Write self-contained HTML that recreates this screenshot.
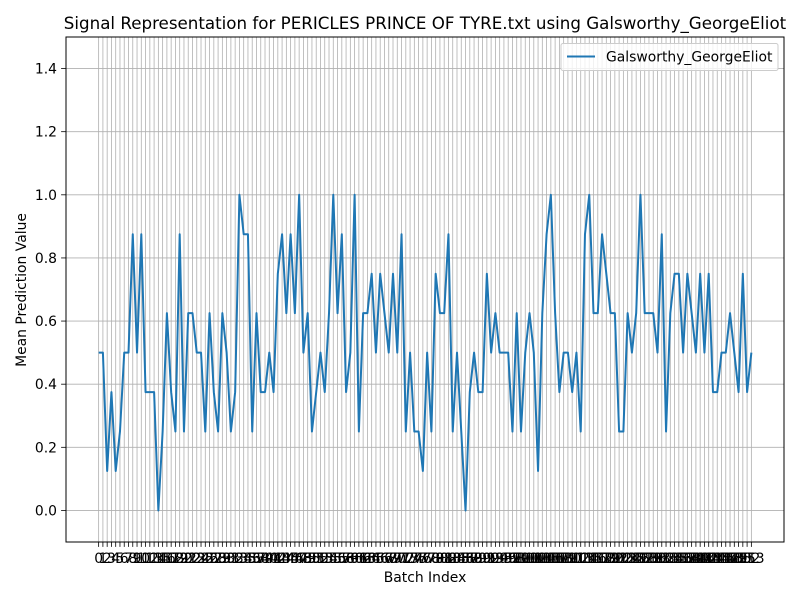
<!DOCTYPE html>
<html><head><meta charset="utf-8"><style>
html,body{margin:0;padding:0;background:#fff;}
svg{display:block;font-family:"DejaVu Sans","Liberation Sans",sans-serif;}
</style></head><body>
<svg id="chart" width="800" height="600" viewBox="0 0 800 600" xmlns="http://www.w3.org/2000/svg">
<rect x="0" y="0" width="800" height="600" fill="#fff"/>
<text x="425" y="29" text-anchor="middle" font-size="16.7" fill="#000">Signal Representation for PERICLES PRINCE OF TYRE.txt using Galsworthy_GeorgeEliot</text>
<g id="grid"></g>
<g id="series"></g>
<rect x="66" y="37" width="718" height="505" fill="none" stroke="#000" stroke-width="1"/>
<g id="xticks"></g>
<g id="yticks"></g>
<text x="425" y="582" text-anchor="middle" font-size="13.9">Batch Index</text>
<text transform="translate(26,290) rotate(-90)" text-anchor="middle" font-size="13.9">Mean Prediction Value</text>
<g>
<rect x="561" y="43.5" width="217" height="27" rx="2" fill="#fff" fill-opacity="0.8" stroke="#ccc"/>
<line x1="567" y1="56.5" x2="595" y2="56.5" stroke="#1f77b4" stroke-width="2"/>
<text x="606" y="61.5" font-size="13.9">Galsworthy_GeorgeEliot</text>
</g>
</svg>
<script>
const values = [0.5,0.5,0.125,0.375,0.125,0.25,0.5,0.5,0.875,0.5,
0.875,0.375,0.375,0.375,0,0.25,0.625,0.375,0.25,0.875,
0.25,0.625,0.625,0.5,0.5,0.25,0.625,0.375,0.25,0.625,
0.5,0.25,0.375,1.0,0.875,0.875,0.25,0.625,0.375,0.375,
0.5,0.375,0.75,0.875,0.625,0.875,0.625,1.0,0.5,0.625,
0.25,0.375,0.5,0.375,0.625,1.0,0.625,0.875,0.375,0.5,
1.0,0.25,0.625,0.625,0.75,0.5,0.75,0.625,0.5,0.75,
0.5,0.875,0.25,0.5,0.25,0.25,0.125,0.5,0.25,0.75,
0.625,0.625,0.875,0.25,0.5,0.25,0,0.375,0.5,0.375,
0.375,0.75,0.5,0.625,0.5,0.5,0.5,0.25,0.625,0.25,
0.5,0.625,0.5,0.125,0.625,0.875,1.0,0.625,0.375,0.5,
0.5,0.375,0.5,0.25,0.875,1.0,0.625,0.625,0.875,0.75,
0.625,0.625,0.25,0.25,0.625,0.5,0.625,1.0,0.625,0.625,
0.625,0.5,0.875,0.25,0.625,0.75,0.75,0.5,0.75,0.625,
0.5,0.75,0.5,0.75,0.375,0.375,0.5,0.5,0.625,0.5,
0.375,0.75,0.375,0.5];
const yTicks = [0.0,0.2,0.4,0.6,0.8,1.0,1.2,1.4];
const yDomain = [-0.1,1.5];
const NS="http://www.w3.org/2000/svg";
const L=66,R=784,T=37,B=542;
const n=values.length;
const xPad=(n-1)*0.05;
function xs(i){return L+(i+xPad)/((n-1)+2*xPad)*(R-L);}
function ys(v){return B-(v-yDomain[0])/(yDomain[1]-yDomain[0])*(B-T);}
function mk(tag,attrs,parent){const e=document.createElementNS(NS,tag);for(const k in attrs)e.setAttribute(k,attrs[k]);parent.appendChild(e);return e;}
const grid=document.getElementById('grid'),xt=document.getElementById('xticks'),yt=document.getElementById('yticks');
for(let i=0;i<n;i++){
  const x=xs(i);
  const gl=mk('line',{x1:x,y1:T,x2:x,y2:B,stroke:'#b0b0b0','stroke-width':0.8},grid);
  
  
  const tk=mk('line',{x1:x,y1:B,x2:x,y2:B+4.9,stroke:'#000','stroke-width':0.8},xt);
  
  
  const tl=mk('text',{x:x,y:B+21,'text-anchor':'middle','font-size':13.9},xt);
  tl.textContent=String(i);
  
  
}
yTicks.forEach(v=>{
  const y=ys(v);
  const gl=mk('line',{x1:L,y1:y,x2:R,y2:y,stroke:'#b0b0b0','stroke-width':0.8},grid);
  
  
  const tk=mk('line',{x1:L-4.9,y1:y,x2:L,y2:y,stroke:'#000','stroke-width':0.8},yt);
  
  
  const tl=mk('text',{x:L-9,y:y+5,'text-anchor':'end','font-size':13.9},yt);
  tl.textContent=v.toFixed(1);
  
  
});
const pts=values.map((v,i)=>xs(i).toFixed(2)+','+ys(v).toFixed(2)).join(' ');
const pl=mk('polyline',{points:pts,fill:'none',stroke:'#1f77b4','stroke-width':2,'stroke-linejoin':'round'},document.getElementById('series'));


</script>
</body></html>
